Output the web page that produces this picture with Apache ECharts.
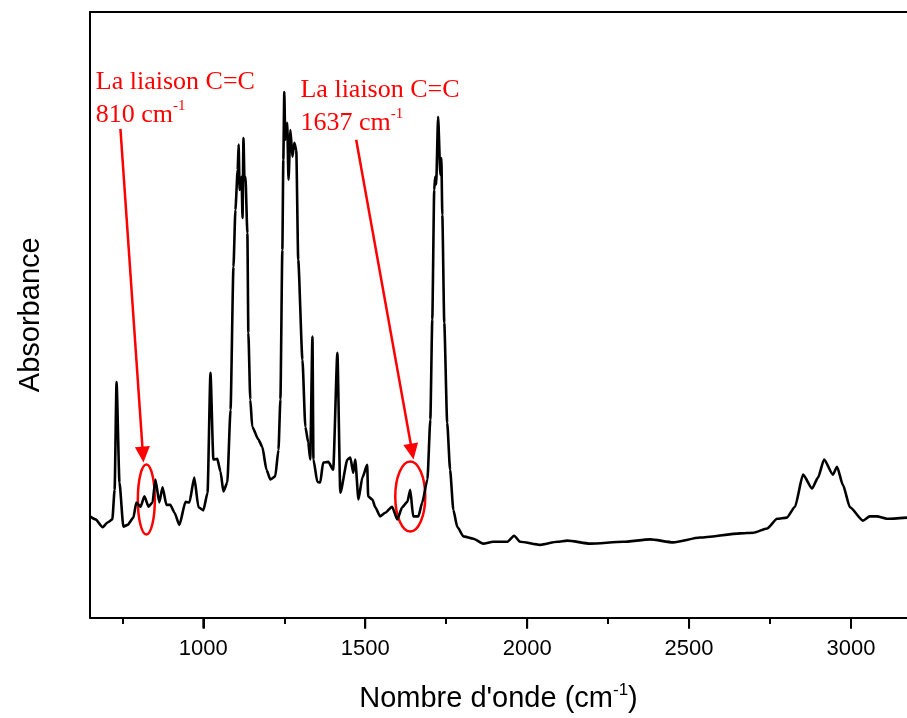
<!DOCTYPE html>
<html>
<head>
<meta charset="utf-8">
<script src="https://cdn.jsdelivr.net/npm/echarts@6/dist/echarts.min.js"></script>
<style>
  html, body { margin: 0; padding: 0; background: #fff; }
  #chart { width: 907px; height: 718px; }
</style>
</head>
<body>
<div id="chart"></div>
<script>
// nombre d'onde (cm-1)
var waveNumbers = [
  650, 667, 689, 704, 719, 726, 732, 741, 753, 766,
  784, 793, 806, 818, 831, 843, 852, 864, 874, 886,
  898, 911, 926, 945, 957, 972, 985, 1000, 1013, 1022,
  1031, 1043, 1053, 1062, 1074, 1084, 1093, 1099, 1106, 1109,
  1112, 1118, 1121, 1124, 1127, 1130, 1136, 1139, 1145, 1151,
  1170, 1182, 1195, 1207, 1222, 1232, 1238, 1244, 1247, 1250,
  1253, 1259, 1263, 1269, 1275, 1281, 1287, 1293, 1306, 1315,
  1324, 1330, 1337, 1340, 1352, 1361, 1370, 1386, 1401, 1414,
  1423, 1445, 1454, 1463, 1469, 1479, 1491, 1506, 1509, 1522,
  1531, 1546, 1562, 1583, 1599, 1614, 1630, 1639, 1648, 1664,
  1676, 1692, 1701, 1707, 1713, 1716, 1719, 1725, 1732, 1735,
  1738, 1744, 1753, 1762, 1772, 1784, 1803, 1834, 1864, 1895,
  1938, 1960, 1978, 2040, 2093, 2124, 2195, 2296, 2380, 2451,
  2534, 2658, 2698, 2741, 2772, 2802, 2827, 2852, 2880, 2898,
  2917, 2944, 2957, 2975, 2997, 3037, 3058, 3080, 3111, 3173
];
// absorbance (u.a.)
var absorbance = [
  0.167, 0.162, 0.149, 0.157, 0.162, 0.211, 0.389, 0.223, 0.150, 0.153,
  0.165, 0.190, 0.183, 0.200, 0.183, 0.190, 0.228, 0.190, 0.215, 0.186,
  0.186, 0.173, 0.153, 0.191, 0.190, 0.231, 0.182, 0.177, 0.206, 0.404,
  0.261, 0.262, 0.241, 0.208, 0.223, 0.343, 0.579, 0.673, 0.739, 0.781,
  0.706, 0.728, 0.660, 0.792, 0.723, 0.728, 0.635, 0.470, 0.360, 0.315,
  0.294, 0.282, 0.244, 0.228, 0.233, 0.277, 0.360, 0.607, 0.756, 0.868,
  0.789, 0.817, 0.723, 0.805, 0.761, 0.784, 0.772, 0.591, 0.426, 0.315,
  0.289, 0.261, 0.464, 0.261, 0.224, 0.223, 0.256, 0.257, 0.244, 0.437,
  0.206, 0.261, 0.264, 0.239, 0.261, 0.195, 0.231, 0.252, 0.200, 0.195,
  0.182, 0.167, 0.173, 0.183, 0.162, 0.182, 0.191, 0.211, 0.167, 0.167,
  0.190, 0.228, 0.327, 0.492, 0.706, 0.728, 0.715, 0.827, 0.731, 0.759,
  0.665, 0.487, 0.322, 0.244, 0.178, 0.150, 0.134, 0.130, 0.122, 0.125,
  0.125, 0.135, 0.125, 0.120, 0.125, 0.127, 0.122, 0.125, 0.129, 0.124,
  0.132, 0.139, 0.140, 0.147, 0.163, 0.165, 0.183, 0.236, 0.213, 0.231,
  0.261, 0.236, 0.249, 0.219, 0.182, 0.160, 0.167, 0.167, 0.163, 0.165
];
var majorTicks = [1000, 1500, 2000, 2500, 3000];
var minorTicks = [750, 1250, 1750, 2250, 2750];

// annotations (data coordinates): label corner, arrow start/end, circled band
var notes = [
  { value: '810', text: [668, 0.911], from: [744, 0.807], to: [813.5, 0.269], ring: [824, 0.195], rx: 8.5, ry: 35 },
  { value: '1637', text: [1300, 0.898], from: [1472, 0.789], to: [1644.7, 0.274], ring: [1639, 0.2], rx: 15, ry: 35 }
];

var RED = '#ff0000';
var serif = '"Liberation Serif", "Times New Roman", serif';
var sans = '"Liberation Sans", Arial, sans-serif';

var points = [];
for (var i = 0; i < waveNumbers.length; i++) {
  points.push([waveNumbers[i], absorbance[i]]);
}

var arrows = notes.map(function (n) {
  return [{ coord: n.from }, { coord: n.to }];
});

var plotRect = { left: 90, right: 0, top: 12, bottom: 100 };
var xMin = 650, xMax = 3173;

var chart = echarts.init(document.getElementById('chart'));
var option = {
  animation: false,
  backgroundColor: '#fff',
  // grid 1 carries the tick labels and minor ticks, same rectangle as grid 0
  grid: [plotRect, plotRect],
  xAxis: [
    {
      type: 'value',
      gridIndex: 0,
      min: xMin,
      max: xMax,
      position: 'bottom',
      name: '{a|Nombre d\'onde (cm}{s|-1}{a|)}',
      nameLocation: 'middle',
      nameGap: 64,
      nameTextStyle: {
        rich: {
          a: { fontFamily: sans, fontSize: 29, color: '#000', lineHeight: 34 },
          s: { fontFamily: sans, fontSize: 17, color: '#000', lineHeight: 20, verticalAlign: 'top' }
        }
      },
      axisLine: { onZero: false, lineStyle: { color: '#000', width: 2 } },
      axisTick: { show: true, customValues: majorTicks, length: 11, lineStyle: { color: '#000', width: 2 } },
      axisLabel: { show: false },
      splitLine: { show: false }
    },
    {
      type: 'value',
      gridIndex: 0,
      min: xMin,
      max: xMax,
      position: 'top',
      axisLine: { onZero: false, lineStyle: { color: '#000', width: 2 } },
      axisTick: { show: false },
      axisLabel: { show: false },
      splitLine: { show: false }
    },
    {
      type: 'value',
      gridIndex: 1,
      min: xMin,
      max: xMax,
      position: 'bottom',
      axisLine: { show: false, onZero: false },
      axisTick: { show: true, customValues: minorTicks, length: 6, lineStyle: { color: '#000', width: 2 } },
      axisLabel: {
        customValues: majorTicks,
        fontFamily: sans,
        fontSize: 22,
        color: '#000',
        margin: 20,
        formatter: function (v) { return String(v); }
      },
      splitLine: { show: false }
    }
  ],
  yAxis: [
    {
      type: 'value',
      gridIndex: 0,
      min: 0,
      max: 1,
      name: 'Absorbance',
      nameLocation: 'middle',
      nameRotate: 90,
      nameGap: 45,
      nameTextStyle: { fontFamily: sans, fontSize: 29, color: '#000' },
      axisLine: { show: true, onZero: false, lineStyle: { color: '#000', width: 2 } },
      axisTick: { show: false },
      axisLabel: { show: false },
      splitLine: { show: false }
    },
    {
      type: 'value',
      gridIndex: 1,
      min: 0,
      max: 1,
      axisLine: { show: false },
      axisTick: { show: false },
      axisLabel: { show: false },
      splitLine: { show: false }
    }
  ],
  series: [
    {
      type: 'line',
      xAxisIndex: 0,
      yAxisIndex: 0,
      data: points,
      showSymbol: false,
      smooth: 0.2,
      smoothMonotone: 'x',
      lineStyle: { color: '#000', width: 2.6 },
      silent: true,
      markLine: {
        silent: true,
        symbol: ['none', 'triangle'],
        symbolSize: [15, 16],
        label: { show: false },
        lineStyle: { color: RED, width: 2.5, type: 'solid' },
        emphasis: { disabled: true },
        data: arrows
      }
    }
  ]
};
chart.setOption(option);

var g = [];
// major ticks again as plain lines on top, placed through the x scale
var axisY = chart.convertToPixel({ yAxisIndex: 0 }, 0);
majorTicks.forEach(function (v) {
  var x = chart.convertToPixel({ xAxisIndex: 0 }, v);
  g.push({
    type: 'line',
    silent: true,
    z: 100,
    shape: { x1: x, y1: axisY, x2: x, y2: axisY + 11 },
    style: { stroke: '#000', lineWidth: 2 }
  });
});

// red labels and circles, placed from data coordinates
notes.forEach(function (n) {
  var t = chart.convertToPixel({ gridIndex: 0 }, n.text);
  var c = chart.convertToPixel({ gridIndex: 0 }, n.ring);
  g.push({
    type: 'text',
    x: t[0],
    y: t[1],
    silent: true,
    style: {
      text: '{a|La liaison C=C}\n{a|' + n.value + ' cm}{s|-1}',
      align: 'left',
      verticalAlign: 'top',
      rich: {
        a: { fill: RED, fontFamily: serif, fontSize: 26, lineHeight: 33 },
        s: { fill: RED, fontFamily: serif, fontSize: 15, lineHeight: 18, verticalAlign: 'top' }
      }
    }
  });
  g.push({
    type: 'ellipse',
    silent: true,
    shape: { cx: c[0], cy: c[1], rx: n.rx, ry: n.ry },
    style: { fill: 'none', stroke: RED, lineWidth: 2.5 }
  });
});
chart.setOption({ graphic: g });
</script>
</body>
</html>
